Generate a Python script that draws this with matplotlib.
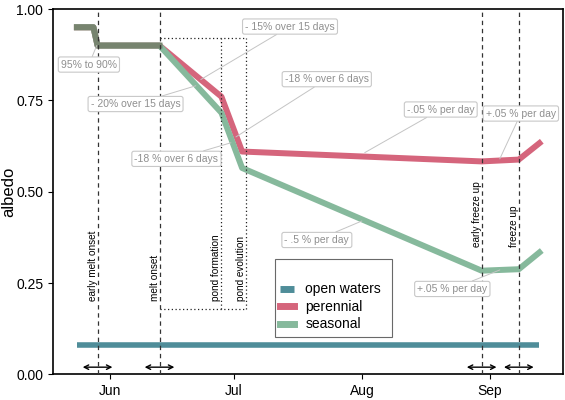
import matplotlib
matplotlib.use("Agg")
import matplotlib.pyplot as plt
import matplotlib.dates as mdates
import pandas as pd

plt.rcParams['font.family'] = ['Liberation Sans', 'DejaVu Sans']

# albedo series
dates = pd.to_datetime(['2018-05-24', '2018-05-28', '2018-05-29', '2018-06-13', '2018-06-28',
                        '2018-07-03', '2018-08-30', '2018-09-08', '2018-09-13'])
perennial = [0.95, 0.95, 0.90, 0.90, 0.76, 0.61, 0.583, 0.588, 0.633]
seasonal = [0.95, 0.95, 0.90, 0.90, 0.716, 0.565, 0.284, 0.288, 0.334]
water_dates = pd.to_datetime(['2018-05-24', '2018-09-13'])
open_waters = [0.08, 0.08]

# events (dashed) and pond stages (dotted)
events = ['early melt onset', 'melt onset', 'early freeze up', 'freeze up']
event_dates = pd.to_datetime(['2018-05-29', '2018-06-13', '2018-08-30', '2018-09-08'])
event_text_y = [0.2, 0.2, 0.35, 0.35]
ponds = ['pond formation', 'pond evolution']
pond_dates = pd.to_datetime(['2018-06-28', '2018-07-04'])
box_top, box_bottom = 0.92, 0.18

# annotation labels: offsets in days from Jun 1
jun1 = mdates.date2num(pd.Timestamp('2018-06-01'))
labels = ['95% to 90%', '- 15% over 15 days', '- 20% over 15 days', '-18 % over 6 days',
          '-18 % over 6 days', '-.05 % per day', '+.05 % per day', '- .5 % per day', '+.05 % per day']
lab_x = [-5.1, 43.6, 6.2, 16.1, 52.5, 80.1, 99.5, 50.1, 82.9]
lab_y = [0.848, 0.952, 0.74, 0.59, 0.808, 0.725, 0.714, 0.368, 0.234]
tgt_x = [-3.2, 22.0, 20.8, 29.3, 30.5, 61.7, 94.4, 61.0, 94.4]
tgt_y = [0.90, 0.807, 0.79, 0.634, 0.65, 0.607, 0.59, 0.42, 0.286]

c_water = '#4f8d99'
c_per = '#d5657c'
c_sea = '#86b99c'

fig = plt.figure(figsize=(5.65, 4.0), dpi=100)
ax = fig.add_axes([0.0938, 0.0638, 0.9027, 0.9137])

ax.plot(water_dates, open_waters, color=c_water, lw=4, solid_capstyle='butt', label='open waters', zorder=2)
ax.plot(dates, perennial, color=c_per, lw=4.3, label='perennial', zorder=2)
ax.plot(dates, seasonal, color=c_sea, lw=4.3, label='seasonal', zorder=2)
# shared part of both series
ax.plot(dates[:4], seasonal[:4], color='#77846f', lw=4.3, zorder=2.1)

for name, d, ty in zip(events, event_dates, event_text_y):
    ax.axvline(d, color='#333333', lw=0.9, ls=(0, (3.5, 3)), zorder=3)
    ax.text(d, ty, name, rotation=90, ha='right', va='bottom', fontsize=7.2, zorder=4)
    x0 = mdates.date2num(d)
    ax.annotate('', xy=(x0 + 3.6, 0.02), xytext=(x0 - 3.6, 0.02),
                arrowprops=dict(arrowstyle='<->', lw=1, color='black', shrinkA=0, shrinkB=0,
                                mutation_scale=8))

for name, d in zip(ponds, pond_dates):
    ax.plot([d, d], [box_bottom, box_top], color='#222222', lw=0.9, ls=(0, (1, 2)), zorder=3)
    ax.text(d, 0.2, name, rotation=90, ha='right', va='bottom', fontsize=7.2, zorder=4)
for yy in [box_top, box_bottom]:
    ax.plot([event_dates[1], pond_dates[1]], [yy, yy], color='#222222', lw=0.9, ls=(0, (1, 2)), zorder=3)

for t, lx, ly, tx, ty in zip(labels, lab_x, lab_y, tgt_x, tgt_y):
    ax.annotate(t, xy=(jun1 + tx, ty), xytext=(jun1 + lx, ly), ha='center', va='center',
                fontsize=7.5, color='#8f8f8f', zorder=5,
                bbox=dict(boxstyle='round,pad=0.25,rounding_size=0.2', fc='white', ec='#c8c8c8', lw=0.8),
                arrowprops=dict(arrowstyle='-', color='#c4c4c4', lw=0.7, shrinkA=0, shrinkB=0))

ax.set_xlim(mdates.date2num(pd.Timestamp('2018-05-18 05:00')), mdates.date2num(pd.Timestamp('2018-09-18 17:00')))
ax.set_ylim(0, 1)
ax.set_yticks([0, 0.25, 0.5, 0.75, 1.0])
ax.set_yticklabels(['0.00', '0.25', '0.50', '0.75', '1.00'])
ax.xaxis.set_major_locator(mdates.MonthLocator())
ax.xaxis.set_major_formatter(mdates.DateFormatter('%b'))
ax.tick_params(labelsize=10, length=3.5, width=0.8, colors='black')
ax.set_ylabel('albedo', fontsize=12)
ax.yaxis.set_label_coords(-0.073, 0.5)
for s in ax.spines.values():
    s.set_linewidth(1.2)

leg = ax.legend(loc='lower left', bbox_to_anchor=(0.435, 0.103, 0.23, 0.2), mode='expand',
                title=' ', fontsize=10, frameon=True, fancybox=False, edgecolor='#444444',
                handlelength=1.0, handleheight=0.5, labelspacing=0.25, borderaxespad=0)
leg.get_frame().set_linewidth(0.8)
for h in leg.legend_handles:
    h.set_linewidth(5)

fig.savefig('out.png', dpi=100)
